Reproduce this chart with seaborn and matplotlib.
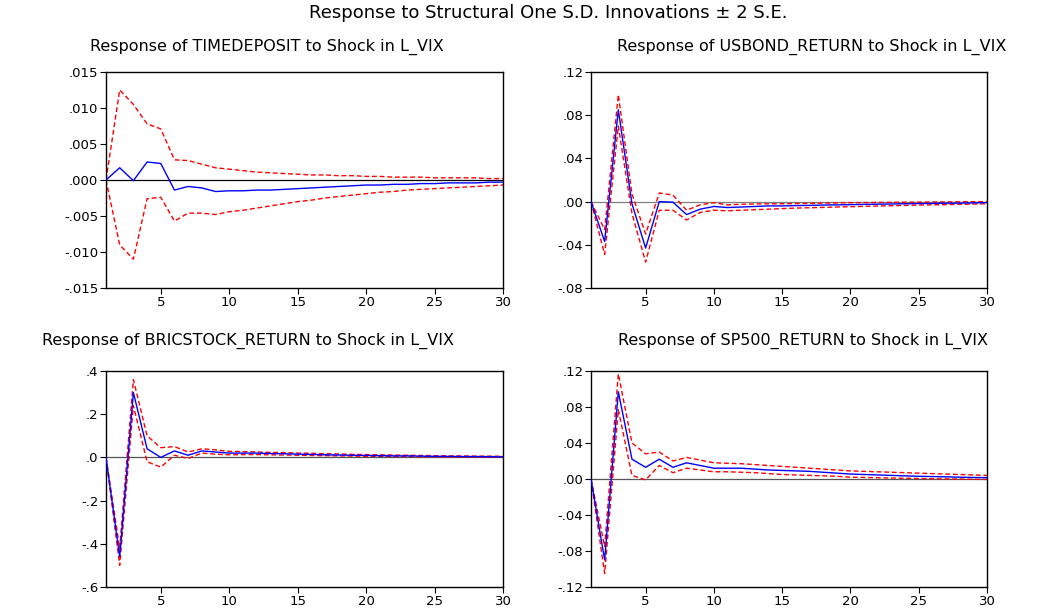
import numpy as np
import pandas as pd
import matplotlib
matplotlib.use("Agg")
import matplotlib.pyplot as plt
from matplotlib.ticker import FuncFormatter, FixedLocator
import seaborn as sns

sns.set_theme(style="white")
plt.rcParams["font.family"] = ["DejaVu Sans"]

periods = list(range(1, 31))

# Impulse responses to a shock in L_VIX, with +/- 2 S.E. bands
timedeposit_resp = [0, .0017, -.0001, .0025, .0023, -.0014, -.0009, -.0011, -.0016, -.0015,
                    -.0015, -.0014, -.0014, -.0013, -.0012, -.0011, -.0010, -.0009, -.0008, -.0007,
                    -.0007, -.0006, -.0006, -.0005, -.0005, -.0004, -.0004, -.0004, -.0003, -.0003]
timedeposit_upper = [0, .0125, .0105, .0078, .0071, .0028, .0027, .0022, .0017, .0015,
                     .0013, .0011, .0010, .0009, .0008, .0007, .0007, .0006, .0006, .0005,
                     .0005, .0004, .0004, .0004, .0003, .0003, .0003, .0003, .0002, .0002]
timedeposit_lower = [0, -.0090, -.0110, -.0026, -.0024, -.0057, -.0046, -.0046, -.0048, -.0044,
                     -.0042, -.0039, -.0036, -.0033, -.0030, -.0028, -.0025, -.0023, -.0021, -.0019,
                     -.0017, -.0016, -.0014, -.0013, -.0012, -.0011, -.0010, -.0009, -.0008, -.0007]

usbond_resp = [0, -.037, .085, -.002, -.043, 0.0, -.0005, -.012, -.007, -.0045,
               -.0055, -.005, -.0045, -.004, -.004, -.0037, -.0035, -.0032, -.003, -.0028,
               -.0026, -.0024, -.0022, -.002, -.0018, -.0017, -.0015, -.0014, -.0012, -.001]
usbond_upper = [0, -.026, .099, .007, -.030, .008, .006, -.008, -.003, -.001,
                -.003, -.0025, -.0022, -.002, -.002, -.0018, -.0016, -.0014, -.0012, -.001,
                -.0009, -.0008, -.0007, -.0006, -.0005, -.0004, -.0003, -.0002, -.0001, 0.0]
usbond_lower = [0, -.049, .070, -.011, -.056, -.008, -.008, -.017, -.010, -.008,
                -.0085, -.008, -.0075, -.007, -.0065, -.006, -.0057, -.0054, -.005, -.0047,
                -.0044, -.0041, -.0038, -.0035, -.0032, -.003, -.0028, -.0025, -.0023, -.002]

bric_resp = [0, -.46, .30, .04, .0, .03, .01, .03, .025, .02,
             .02, .02, .018, .017, .015, .014, .012, .011, .01, .009,
             .008, .007, .007, .006, .005, .005, .004, .004, .003, .003]
bric_upper = [0, -.42, .36, .10, .045, .05, .025, .04, .035, .028,
              .027, .025, .023, .022, .02, .019, .017, .016, .014, .013,
              .012, .011, .01, .009, .008, .007, .007, .006, .006, .005]
bric_lower = [0, -.50, .24, -.02, -.045, .01, -.005, .02, .015, .012,
              .013, .013, .012, .011, .01, .009, .008, .007, .006, .005,
              .005, .004, .004, .003, .003, .002, .002, .002, .001, .001]

sp500_resp = [0, -.090, .097, .022, .013, .022, .013, .018, .015, .012,
              .012, .012, .011, .010, .0095, .009, .0085, .0075, .0065, .0055,
              .005, .0045, .004, .0035, .003, .0027, .0024, .002, .0017, .0015]
sp500_upper = [0, -.075, .117, .040, .028, .030, .020, .024, .021, .018,
               .0175, .017, .016, .015, .014, .013, .012, .011, .010, .009,
               .0085, .008, .0075, .007, .0065, .006, .0055, .005, .0045, .004]
sp500_lower = [0, -.105, .077, .004, -.001, .015, .007, .012, .010, .008,
               .008, .0075, .007, .006, .005, .0045, .004, .0035, .003, .002,
               .0017, .0014, .0011, .0008, .0005, .0003, .0001, 0, -.0003, -.0005]

panels = [
    dict(title="Response of TIMEDEPOSIT to Shock in L_VIX",
         resp=timedeposit_resp, upper=timedeposit_upper, lower=timedeposit_lower,
         yticks=[-.015, -.010, -.005, .000, .005, .010, .015], dec=3,
         rect=[106, 72, 503, 288], title_cx=267, title_y=47, zero="#000000"),
    dict(title="Response of USBOND_RETURN to Shock in L_VIX",
         resp=usbond_resp, upper=usbond_upper, lower=usbond_lower,
         yticks=[-.08, -.04, .00, .04, .08, .12], dec=2,
         rect=[591, 72, 987, 288], title_cx=812, title_y=47, zero="#808080"),
    dict(title="Response of BRICSTOCK_RETURN to Shock in L_VIX",
         resp=bric_resp, upper=bric_upper, lower=bric_lower,
         yticks=[-.6, -.4, -.2, .0, .2, .4], dec=1,
         rect=[106, 371, 503, 587], title_cx=248, title_y=341, zero="#555555"),
    dict(title="Response of SP500_RETURN to Shock in L_VIX",
         resp=sp500_resp, upper=sp500_upper, lower=sp500_lower,
         yticks=[-.12, -.08, -.04, .00, .04, .08, .12], dec=2,
         rect=[591, 371, 987, 587], title_cx=803, title_y=341, zero="#555555"),
]

W, H = 1059, 609
fig = plt.figure(figsize=(W / 100, H / 100), dpi=100)
fig.patch.set_facecolor("white")


def short_fmt(dec):
    def f(v, pos):
        s = f"{v:.{dec}f}"
        if s.startswith("-0."):
            s = "-" + s[2:]
        elif s.startswith("0."):
            s = s[1:]
        return s
    return FuncFormatter(f)


for p in panels:
    x0, y0, x1, y1 = p["rect"]
    ax = fig.add_axes([x0 / W, 1 - y1 / H, (x1 - x0) / W, (y1 - y0) / H])
    ax.set_facecolor("white")
    df = pd.DataFrame({"period": periods, "resp": p["resp"],
                       "upper": p["upper"], "lower": p["lower"]})
    ax.axhline(0, color=p["zero"], lw=0.9, zorder=1)
    sns.lineplot(data=df, x="period", y="upper", ax=ax, color="#FF0000",
                 lw=1.0, zorder=2).lines[-1].set_dashes((3.5, 2))
    sns.lineplot(data=df, x="period", y="lower", ax=ax, color="#FF0000",
                 lw=1.0, zorder=2).lines[-1].set_dashes((3.5, 2))
    sns.lineplot(data=df, x="period", y="resp", ax=ax, color="#0000FF",
                 lw=1.0, zorder=3)
    ax.set_xlim(1, 30)
    ax.set_ylim(p["yticks"][0], p["yticks"][-1])
    ax.xaxis.set_major_locator(FixedLocator([5, 10, 15, 20, 25, 30]))
    ax.yaxis.set_major_locator(FixedLocator(p["yticks"]))
    ax.yaxis.set_major_formatter(short_fmt(p["dec"]))
    ax.set_xlabel("")
    ax.set_ylabel("")
    for s in ax.spines.values():
        s.set_color("black")
        s.set_linewidth(1.0)
        s.set_visible(True)
    ax.tick_params(axis="both", direction="out", length=4, width=0.8,
                   color="black", labelsize=9.5, labelcolor="black", pad=1.5,
                   left=True, bottom=True)
    ax.grid(False)
    fig.text(p["title_cx"] / W, 1 - p["title_y"] / H, p["title"],
             ha="center", va="center", fontsize=11.5, color="black")

fig.text(548 / W, 1 - 13 / H,
         "Response to Structural One S.D. Innovations \u00b1 2 S.E.",
         ha="center", va="center", fontsize=13, color="black")

fig.savefig("out.png", dpi=100, facecolor="white")
